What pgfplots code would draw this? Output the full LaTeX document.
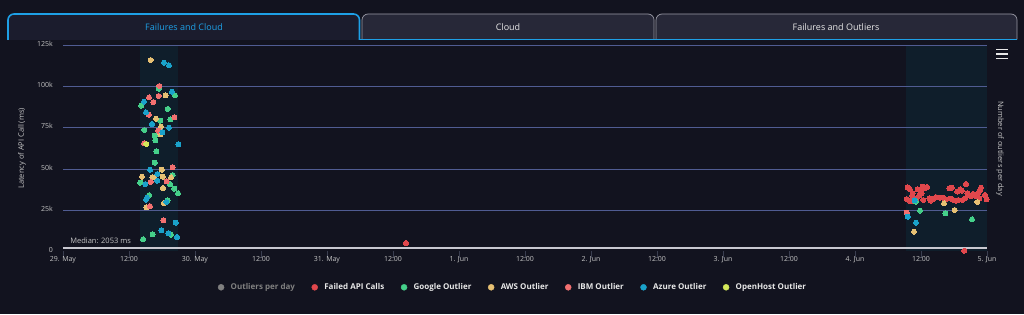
\documentclass[border=0pt]{standalone}
\usepackage{pgfplots}
\pgfplotsset{compat=1.18}
\usepackage{fontspec}
\setmainfont{Open Sans}
\definecolor{bg}{HTML}{12131F}
\definecolor{bandc}{HTML}{0F1E2B}
\definecolor{gridc}{HTML}{505C92}
\definecolor{medc}{HTML}{C8C8D0}
\definecolor{tickc}{HTML}{3A3E50}
\definecolor{textc}{HTML}{C4C4C4}
\definecolor{legc}{HTML}{E8E8E8}
\definecolor{failed}{HTML}{E0474C}
\definecolor{google}{HTML}{45D08A}
\definecolor{aws}{HTML}{E6C073}
\definecolor{ibm}{HTML}{F27070}
\definecolor{azure}{HTML}{1AA2CA}
\definecolor{openhost}{HTML}{D4E85A}
\definecolor{outgrey}{HTML}{808080}
\definecolor{tabblue}{HTML}{1EA0E6}
\definecolor{tabonefill}{HTML}{1B1C2D}
\definecolor{tabfill}{HTML}{272838}
\definecolor{tabborder}{HTML}{9A9AA6}
\begin{document}
\begin{tikzpicture}[x=1pt,y=1pt]
\begin{axis}[
  at={(63pt,62.9pt)}, anchor=south west,
  scale only axis, width=924pt, height=205.4pt,
  xmin=0, xmax=168, ymin=0, ymax=125,
  clip=false, set layers,
  axis line style={draw=none},
  xtick={0,12,...,168},
  xticklabels={29. May,12:00,30. May,12:00,31. May,12:00,1. Jun,12:00,2. Jun,12:00,3. Jun,12:00,4. Jun,12:00,5. Jun},
  x tick style={color=tickc, line width=0.8pt},
  major tick length=7pt,
  tick align=outside,
  xtick pos=bottom,
  ytick={25,50,75,100,125},
  yticklabels={25k,50k,75k,100k,125k},
  extra y ticks={0}, extra y tick labels={0},
  extra y tick style={grid=none},
  y tick style={draw=none},
  ymajorgrids, grid style={color=gridc, line width=0.8pt},
  tick label style={font=\fontsize{7}{8}\selectfont, text=textc},
  yticklabel style={anchor=east, inner sep=0pt, xshift=-3pt, yshift=1.5pt},
  xticklabel style={anchor=base, yshift=-3.5pt},
  ylabel={Latency of API Call (ms)},
  every axis y label/.style={at={(axis description cs:-0.04437,0.5)}, rotate=90, anchor=center, font=\fontsize{7.5}{9}\selectfont, text=textc},
  legend image code/.code={\fill[#1] (0pt,0pt) circle (3pt);},
  legend style={draw=none, fill=none, at={(axis description cs:0.4859,-0.1762)}, anchor=center,
    legend columns=7, font=\fontsize{8}{9}\selectfont\bfseries, text=legc,
    nodes={inner sep=0pt},
    /tikz/every odd column/.append style={column sep=6.4pt},
    /tikz/every even column/.append style={column sep=16.5pt}},
  every axis plot/.append style={only marks, mark=*, mark size=2.5pt, mark options={line width=0pt}},
]
\begin{pgfonlayer}{axis background}
\fill[bg] (rel axis cs:-0.06818,-0.30623) rectangle (rel axis cs:1.04004,1.22249);
\fill[bandc] (axis cs:14,0) rectangle (axis cs:20.9,125);
\fill[bandc] (axis cs:153.3,0) rectangle (axis cs:168,125);
\end{pgfonlayer}
\draw[medc, line width=1.6pt] (axis cs:0,2.053) -- (axis cs:168,2.053);
\node[anchor=base west, inner sep=0pt, font=\fontsize{7.5}{9}\selectfont, text=textc] at (axis cs:1.3,4.6) {Median: 2053 ms};

\addlegendimage{color=outgrey}
\addlegendentry{\textcolor{outgrey}{Outliers per day}}

\addplot[color=failed] table[row sep=\\] {
x y\\
62.36 4.9\\
153.58 38.8\\ 154.0 37.6\\ 154.49 35.2\\ 153.4 31.7\\ 153.87 30.7\\ 154.42 30.3\\
155.4 37.6\\ 155.82 36.8\\ 156.31 39.2\\ 156.73 38.2\\ 156.13 35.2\\ 155.69 33.7\\
155.22 32.1\\ 156.42 31.1\\ 157.51 32.1\\ 157.76 30.7\\ 159.45 32.5\\ 159.95 32.5\\
160.49 31.5\\ 161.15 38.2\\ 161.58 38.6\\ 161.4 31.9\\ 161.87 31.1\\ 162.36 30.7\\
162.78 31.1\\ 162.6 36.2\\ 163.09 37.6\\ 163.4 36.8\\ 163.58 31.1\\ 164.18 40.8\\
164.42 35.2\\ 164.78 34.1\\ 165.04 33.5\\ 165.51 34.8\\ 166.0 33.5\\ 166.42 35.5\\
166.73 37.2\\ 166.91 38.6\\ 166.6 32.1\\ 167.64 34.1\\ 167.95 31.5\\ 163.87 0.2\\
164.0 32.1\\ 158.2 31.7\\ 158.7 32.9\\ 154.9 30.8\\ 157.1 39.0\\ 154.4 33.6\\
};
\addlegendentry{Failed API Calls}

\addplot[color=google] table[row sep=\\] {
x y\\
17.4 98.8\\ 14.24 88.5\\ 20.36 94.8\\ 19.04 86.5\\ 17.69 79.4\\ 19.51 80.2\\
14.78 73.7\\ 16.67 70.2\\ 16.78 67.4\\ 16.96 60.7\\ 16.67 53.8\\ 19.95 46.3\\
14.05 41.6\\ 19.45 40.8\\ 20.24 38.0\\ 20.91 35.2\\ 15.64 34.0\\ 19.04 30.9\\
16.31 10.2\\ 19.64 10.0\\ 14.55 7.2\\
155.04 30.1\\ 160.42 22.9\\ 155.82 24.7\\ 165.27 19.4\\
};
\addlegendentry{Google Outlier}

\addplot[color=aws] table[row sep=\\] {
x y\\
15.95 116.3\\ 18.67 94.8\\ 16.91 80.6\\ 17.82 75.7\\ 17.69 71.1\\ 17.95 49.5\\
14.36 45.3\\ 16.24 44.9\\ 16.55 44.9\\ 18.13 45.3\\ 19.64 44.9\\ 18.18 38.4\\
18.36 29.3\\ 15.15 26.7\\
160.18 29.1\\ 166.24 29.9\\ 162.13 25.0\\ 154.73 11.8\\
};
\addlegendentry{AWS Outlier}

\addplot[color=ibm] table[row sep=\\] {
x y\\
17.51 100.5\\ 15.64 93.6\\ 16.42 90.7\\ 17.4 94.4\\ 15.58 83.0\\ 20.24 81.4\\
17.33 73.3\\ 14.73 65.6\\ 19.95 51.0\\ 15.95 42.1\\ 18.85 42.5\\ 15.8 27.4\\
18.24 18.7\\
153.4 23.4\\
};
\addlegendentry{IBM Outlier}

\addplot[color=azure] table[row sep=\\] {
x y\\
18.36 114.7\\ 19.27 113.1\\ 19.8 97.0\\ 14.73 90.9\\ 15.09 84.5\\ 16.18 77.4\\
19.27 75.1\\ 18.05 72.3\\ 20.96 65.0\\ 15.82 49.5\\ 17.15 46.9\\ 14.96 40.8\\
17.15 42.8\\ 15.27 32.5\\ 15.09 31.3\\ 18.78 29.9\\ 20.49 17.3\\ 17.87 12.7\\
19.15 10.8\\ 20.73 8.6\\
154.82 30.8\\ 153.58 20.9\\ 155.09 17.3\\
};
\addlegendentry{Azure Outlier}

\addplot[color=openhost] table[row sep=\\] {
x y\\
15.15 65.2\\
};
\addlegendentry{OpenHost Outlier}
\end{axis}

% tabs
\draw[tabborder, fill=tabfill, line width=0.7pt, rounded corners=6pt] (362,274.5) -- (362,300) -- (654,300) -- (654,274.5);
\draw[tabborder, fill=tabfill, line width=0.7pt, rounded corners=6pt] (656,274.5) -- (656,300) -- (1017,300) -- (1017,274.5);
\draw[tabblue, line width=1pt] (359.5,274.5) -- (1017,274.5);
\draw[tabblue, fill=tabonefill, line width=1.6pt, rounded corners=6pt] (8,274) -- (8,300) -- (359.5,300) -- (359.5,274);
\node[font=\fontsize{9}{10}\selectfont, text=tabblue] at (184,286.7) {Failures and Cloud};
\node[font=\fontsize{9}{10}\selectfont, text=legc] at (508,286.7) {Cloud};
\node[font=\fontsize{9}{10}\selectfont, text=legc] at (836,286.7) {Failures and Outliers};

% right label and menu icon
\node[rotate=-90, font=\fontsize{7.5}{9}\selectfont, text=textc] at (1000,165.5) {Number of outliers per day};
\foreach \yy in {264.5,260,255.5} {\fill[legc] (996,\yy-0.9) rectangle (1008,\yy+0.9);}
\pgfresetboundingbox
\useasboundingbox (0,0) rectangle (1024,314);
\end{tikzpicture}
\end{document}
